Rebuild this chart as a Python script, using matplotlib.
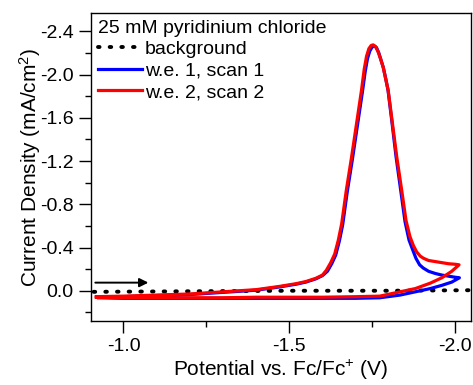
import numpy as np
import matplotlib
matplotlib.use("Agg")
import matplotlib.pyplot as plt

plt.rcParams["font.family"] = ["Liberation Sans", "DejaVu Sans"]
plt.rcParams["mathtext.fontset"] = "custom"
plt.rcParams["mathtext.rm"] = "Liberation Sans"
plt.rcParams["mathtext.it"] = "Liberation Sans:italic"
plt.rcParams["axes.unicode_minus"] = False

# ---- data (potential in V, current density in mA/cm2)
bg_E = [-0.91, -1.2, -1.5, -1.8, -2.05]
bg_I = [0.01, 0.005, 0.0, 0.0, -0.005]

# w.e. 1, scan 1 (forward sweep then return)
we1_E = [-0.925, -1.00, -1.10, -1.20, -1.30, -1.40, -1.47, -1.52, -1.55, -1.58, -1.60,
         -1.615, -1.628, -1.640, -1.651, -1.661, -1.675, -1.691, -1.706, -1.721, -1.729,
         -1.736, -1.743, -1.750, -1.756, -1.763, -1.770, -1.777, -1.784, -1.791, -1.798,
         -1.810, -1.822, -1.836, -1.849, -1.861, -1.872, -1.882, -1.893, -1.904, -1.92,
         -1.94, -1.96, -1.98, -2.00, -2.013,
         -1.99, -1.96, -1.925, -1.88, -1.834, -1.773, -1.70, -1.60, -1.50, -1.40, -1.30,
         -1.20, -1.10, -1.00, -0.925]
we1_I = [0.06, 0.055, 0.045, 0.035, 0.015, -0.005, -0.035, -0.06, -0.08, -0.11, -0.14,
         -0.18, -0.25, -0.33, -0.46, -0.61, -0.92, -1.23, -1.54, -1.85, -2.03,
         -2.15, -2.22, -2.255, -2.265, -2.25, -2.20, -2.13, -2.06, -1.96, -1.85,
         -1.55, -1.24, -0.93, -0.64, -0.47, -0.38, -0.30, -0.24, -0.21, -0.18,
         -0.16, -0.145, -0.135, -0.125, -0.12,
         -0.08, -0.05, -0.02, 0.01, 0.04, 0.065, 0.07, 0.07, 0.07, 0.07, 0.07,
         0.07, 0.07, 0.07, 0.065]

# w.e. 2, scan 2
we2_E = [-0.918, -1.00, -1.10, -1.20, -1.30, -1.40, -1.47, -1.52, -1.55, -1.58, -1.60,
         -1.612, -1.625, -1.637, -1.648, -1.658, -1.672, -1.688, -1.703, -1.718, -1.726,
         -1.733, -1.740, -1.747, -1.753, -1.760, -1.768, -1.776, -1.783, -1.790, -1.798,
         -1.811, -1.824, -1.839, -1.852, -1.864, -1.874, -1.884, -1.895, -1.905, -1.92,
         -1.94, -1.96, -1.98, -2.00, -2.012,
         -1.99, -1.96, -1.925, -1.88, -1.834, -1.773, -1.70, -1.60, -1.50, -1.40, -1.30,
         -1.20, -1.10, -1.00, -0.918]
we2_I = [0.055, 0.05, 0.04, 0.03, 0.01, -0.01, -0.04, -0.065, -0.085, -0.115, -0.145,
         -0.19, -0.26, -0.34, -0.47, -0.62, -0.93, -1.24, -1.55, -1.86, -2.05,
         -2.17, -2.24, -2.27, -2.275, -2.26, -2.21, -2.14, -2.07, -1.97, -1.86,
         -1.55, -1.24, -0.93, -0.65, -0.50, -0.42, -0.36, -0.32, -0.30, -0.28,
         -0.27, -0.26, -0.25, -0.245, -0.24,
         -0.18, -0.12, -0.07, -0.02, 0.01, 0.05, 0.055, 0.06, 0.06, 0.06, 0.065,
         0.065, 0.065, 0.065, 0.06]

legend_title = "25 mM pyridinium chloride"
labels = ["background", "w.e. 1, scan 1", "w.e. 2, scan 2"]

fig = plt.figure(figsize=(4.73, 3.85), dpi=100)
ax = fig.add_axes([91 / 473, 1 - 321 / 385, 380 / 473, 308 / 385])

ax.plot(bg_E, bg_I, color="black", lw=2.8, linestyle=(0, (0.4, 2.6)),
        dash_capstyle="round", label=labels[0])
ax.plot(we1_E, we1_I, color="#0000ff", lw=2.3, label=labels[1])
ax.plot(we2_E, we2_I, color="#ff0000", lw=2.3, label=labels[2])

ax.annotate("", xy=(-1.075, -0.075), xytext=(-0.915, -0.075),
            arrowprops=dict(arrowstyle="-|>", color="black", lw=1.4,
                            mutation_scale=13, shrinkA=0, shrinkB=0))

ax.set_xlim(-0.902, -2.048)
ax.set_ylim(0.28, -2.57)

ax.set_xticks([-1.0, -1.5, -2.0])
ax.set_xticks([-1.25, -1.75], minor=True)
ax.set_yticks(np.arange(0.0, -2.41, -0.4))
ax.set_yticks(np.arange(0.2, -2.41, -0.4), minor=True)
ax.xaxis.set_major_formatter(plt.FormatStrFormatter("%.1f"))
ax.yaxis.set_major_formatter(plt.FormatStrFormatter("%.1f"))

ax.tick_params(which="major", direction="out", length=8.5, width=1, labelsize=14, pad=4)
ax.tick_params(which="minor", direction="out", length=4.5, width=1)
for s in ax.spines.values():
    s.set_linewidth(1)

ax.set_xlabel(r"Potential vs. Fc/Fc$^{+}$ (V)", fontsize=15, labelpad=2)
ax.set_ylabel(r"Current Density (mA/cm$^{2}$)", fontsize=15, labelpad=-2)

leg = ax.legend(title=legend_title, loc="upper left", frameon=False, fontsize=14,
                title_fontsize=14, handlelength=2.27, handletextpad=0.15,
                labelspacing=0.2, borderaxespad=0.0, borderpad=0.35,
                alignment="left")

fig.savefig("out.png", dpi=100)
